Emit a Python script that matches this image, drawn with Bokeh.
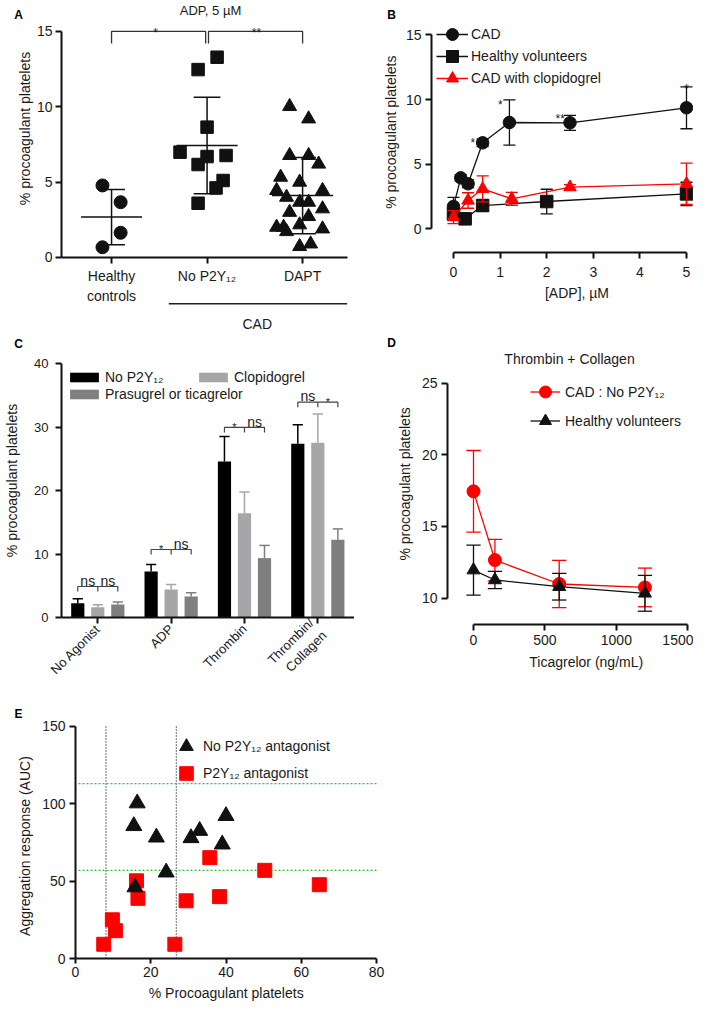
import math
from bokeh.plotting import figure
from bokeh.layouts import column, row
from bokeh.models import Range1d, FixedTicker, Label, Legend, LegendItem
from bokeh.embed import file_html
from bokeh.resources import INLINE

FONT = "Liberation Sans"
INK = "#111111"
RED = "#ff0000"

# ---------------- Panel A data ----------------
a_labels = ["Healthy\ncontrols", "No P2Y\u2081\u2082", "DAPT"]
a_healthy = [4.78, 3.67, 1.64, 0.68]
a_healthy_dx = [-0.095, 0.095, 0.095, -0.095]
a_nop2y12 = [13.29, 12.47, 8.65, 6.99, 6.70, 6.77, 6.17, 5.11, 4.62, 3.60]
a_nop2y12_dx = [0.105, -0.094, 0.0, -0.283, 0.0, 0.199, -0.094, 0.168, 0.094, -0.094]
a_dapt = [10.02, 9.2, 6.77, 6.77, 6.2, 5.33, 5.0, 4.45, 4.45, 4.0, 3.67,
          3.67, 3.0, 3.23, 2.72, 2.01, 2.01, 2.17, 1.72, 1.9, 0.73, 0.9]
a_dapt_dx = [-0.136, 0.063, -0.136, 0.063, 0.168, -0.230, -0.031, -0.272, 0.209, -0.168, -0.031,
             0.063, -0.136, 0.209, 0.063, -0.272, -0.199, -0.031, -0.168, 0.209, -0.031, 0.084]
a_mean = [2.68, 7.43, 4.11]
a_sd = [1.83, 3.2, 2.53]
a_bracket_y = 15.0
a_sig = ["*", "**"]

# ---------------- Panel B data ----------------
b_x_cad = [0, 0.156, 0.3125, 0.625, 1.2, 2.5, 5]
b_cad = [1.73, 3.94, 3.48, 6.65, 8.22, 8.2, 9.36]
b_cad_err = [0.7, 0.25, 0.3, 0.3, 1.75, 0.58, 1.62]
b_x_hv = [0, 0.25, 0.625, 2, 5]
b_hv = [1.16, 0.77, 1.8, 2.11, 2.7]
b_hv_err = [0.45, 0.2, 0.43, 0.95, 0.9]
b_x_clop = [0, 0.3125, 0.625, 1.25, 2.5, 5]
b_clop = [0.9, 2.19, 3.09, 2.32, 3.22, 3.48]
b_clop_err = [0.5, 0.6, 1.0, 0.5, 0.2, 1.6]
b_names = ["CAD", "Healthy volunteers", "CAD with clopidogrel"]

# ---------------- Panel C data ----------------
c_categories = ["No Agonist", "ADP", "Thrombin", "Thrombin/\nCollagen"]
c_series = ["No P2Y\u2081\u2082", "Clopidogrel", "Prasugrel or ticagrelor"]
c_no = [2.31, 7.3, 24.6, 27.4]
c_no_err = [0.68, 1.1, 3.96, 3.0]
c_clop = [1.68, 4.46, 16.48, 27.56]
c_clop_err = [0.37, 0.79, 3.32, 4.54]
c_pras = [2.1, 3.36, 9.4, 12.28]
c_pras_err = [0.37, 0.58, 2.0, 1.72]
c_bracket_y = [4.93, 10.76, 30.0, 33.96]
c_sig_left = ["ns", "*", "*", "ns"]
c_sig_right = ["ns", "ns", "ns", "*"]

# ---------------- Panel D data ----------------
d_x = [0, 150, 600, 1200]
d_cad = [17.45, 12.65, 10.98, 10.74]
d_cad_err = [2.85, 1.45, 1.65, 1.35]
d_hv = [11.95, 11.26, 10.79, 10.33]
d_hv_err = [1.75, 0.6, 0.93, 1.25]
d_names = ["CAD : No P2Y\u2081\u2082", "Healthy volunteers"]

# ---------------- Panel E data ----------------
e_no_x = [16.4, 15.5, 21.5, 24.1, 15.8, 30.7, 33.0, 39.0, 40.0]
e_no_y = [100.4, 85.7, 78.3, 55.7, 46.1, 77.9, 82.6, 73.8, 92.2]
e_p2_x = [16.2, 16.6, 35.7, 50.3, 64.8, 38.3, 29.4, 9.8, 10.6, 7.5, 26.4]
e_p2_y = [50.2, 38.9, 65.2, 57.0, 47.7, 40.0, 37.3, 25.0, 18.0, 9.2, 9.2]
e_vlines = [8.1, 26.8]
e_hlines = [113.1, 57.0]
e_names = ["No P2Y\u2081\u2082 antagonist", "P2Y\u2081\u2082 antagonist"]


# ---------------- helpers ----------------
def make_fig(w, h, xr, yr):
    p = figure(width=w, height=h, x_range=Range1d(*xr), y_range=Range1d(*yr),
               output_backend="svg", toolbar_location=None, min_border=0)
    p.frame_align = False
    p.grid.visible = False
    p.outline_line_color = None
    p.background_fill_color = "white"
    p.border_fill_color = "white"
    return p


def style_axes(p, xticks, yticks, xloc, yloc, xbounds, ybounds, xsize="14px", ysize="14px",
               xstand=5, ystand=4, xtick=6, ytick=6):
    p.xaxis.ticker = FixedTicker(ticks=xticks)
    p.yaxis.ticker = FixedTicker(ticks=yticks)
    for ax in p.axis:
        ax.axis_line_width = 2
        ax.axis_line_color = INK
        ax.major_tick_line_width = 2
        ax.major_tick_line_color = INK
        ax.major_tick_in = 0
        ax.minor_tick_line_color = None
        ax.major_label_text_font = FONT
        ax.major_label_text_color = "#1a1a1a"
    p.xaxis.fixed_location = xloc
    p.yaxis.fixed_location = yloc
    p.xaxis.bounds = xbounds
    p.yaxis.bounds = ybounds
    p.xaxis.major_tick_out = xtick
    p.yaxis.major_tick_out = ytick
    p.xaxis.major_label_text_font_size = xsize
    p.yaxis.major_label_text_font_size = ysize
    p.xaxis.major_label_standoff = xstand
    p.yaxis.major_label_standoff = ystand


def txt(p, x, y, s, size="14px", align="center", baseline="middle", bold=False,
        color="#1a1a1a", angle=0.0):
    p.add_layout(Label(x=x, y=y, text=s, text_font=FONT, text_font_size=size,
                       text_align=align, text_baseline=baseline,
                       text_font_style="bold" if bold else "normal",
                       text_color=color, angle=angle))


def errbars(p, xs, lows, highs, half, color, width=1.3, low_cap=True):
    p.segment(x0=xs, y0=lows, x1=xs, y1=highs, line_color=color, line_width=width)
    p.segment(x0=[x - half for x in xs], y0=highs, x1=[x + half for x in xs], y1=highs,
              line_color=color, line_width=width)
    if low_cap:
        p.segment(x0=[x - half for x in xs], y0=lows, x1=[x + half for x in xs], y1=lows,
                  line_color=color, line_width=width)


def add_legend(p, items, loc, gw, gh, lh, spacing, standoff, size):
    lg = Legend(items=items, location=loc, orientation="vertical",
                glyph_width=gw, glyph_height=gh, label_height=lh, spacing=spacing,
                label_standoff=standoff, padding=0, margin=0,
                border_line_color=None, background_fill_alpha=0,
                label_text_font=FONT, label_text_font_size=size,
                label_text_color="#1a1a1a")
    p.add_layout(lg)


# ======================= Panel A =======================
pA = make_fig(354, 335, (-1.1626, 2.5434), (-5.176, 17.054))
style_axes(pA, [0, 1, 2], [0, 5, 10, 15], 0, -0.524, (-0.524, 2.47), (0, 15),
           xsize="14px", ysize="14px", xstand=5, ystand=3, xtick=6, ytick=6)
pA.xaxis.major_label_overrides = {i: lab for i, lab in enumerate(a_labels)}
a_centers = [0, 1, 2]
a_groups = [(a_healthy, a_healthy_dx, "circle", 13),
            (a_nop2y12, a_nop2y12_dx, "square", 12.5),
            (a_dapt, a_dapt_dx, "triangle", 14)]
for c, (vals, dx, mk, sz) in zip(a_centers, a_groups):
    pA.scatter(x=[c + d for d in dx], y=vals, marker=mk, size=sz,
               fill_color=INK, line_color=INK)
pA.segment(x0=[c - 0.32 for c in a_centers], y0=a_mean,
           x1=[c + 0.32 for c in a_centers], y1=a_mean, line_color=INK, line_width=1.5)
errbars(pA, a_centers, [m - s for m, s in zip(a_mean, a_sd)],
        [m + s for m, s in zip(a_mean, a_sd)], 0.14, INK, 1.5)
drop = 0.8
pA.multi_line(xs=[[0, 0, 0.985, 0.985], [1.015, 1.015, 2, 2]],
              ys=[[a_bracket_y - drop, a_bracket_y, a_bracket_y, a_bracket_y - drop]] * 2,
              line_color="#333333", line_width=1.3)
txt(pA, 0.46, 14.93, a_sig[0], size="12px", baseline="alphabetic")
txt(pA, 1.517, 14.93, a_sig[1], size="12px", baseline="alphabetic")
txt(pA, 1.036, 16.39, "ADP, 5 \u00b5M", size="13px")
txt(pA, -0.974, 16.06, "A", size="12px", bold=True, color="black")
txt(pA, -0.901, 8.56, "% procoagulant platelets", size="14px", angle=math.pi / 2)
pA.segment(x0=[0.599], y0=[-3.07], x1=[2.467], y1=[-3.07], line_color="#222222", line_width=1.3)
txt(pA, 1.525, -4.40, "CAD", size="14px")

# ======================= Panel B =======================
pB = make_fig(339, 335, (-2.1245, 5.1502), (-8.252, 17.657))
style_axes(pB, [0, 1, 2, 3, 4, 5], [0, 5, 10, 15], -1.833, -0.4721, (0, 5), (0, 15),
           xsize="14px", ysize="14px", xstand=8, ystand=4, xtick=6, ytick=6)
b_series = [(b_x_cad, b_cad, b_cad_err, "circle", INK, b_names[0]),
            (b_x_hv, b_hv, b_hv_err, "square", INK, b_names[1]),
            (b_x_clop, b_clop, b_clop_err, "triangle", RED, b_names[2])]
b_items = []
for xs, ys, es, mk, col, name in b_series:
    errbars(pB, xs, [y - e for y, e in zip(ys, es)], [y + e for y, e in zip(ys, es)],
            0.13, col, 1.3)
    lr = pB.line(xs, ys, line_color=col, line_width=1.3)
    sr = pB.scatter(xs, ys, marker=mk, size=12.5, fill_color=col, line_color=col)
    b_items.append(LegendItem(label=name, renderers=[lr, sr]))
for item, ly in zip(b_items, [286, 264, 242]):
    add_legend(pB, [item], (82, ly), 32, 30, 20, 0, 3, "14px")
for sx, sy, s in [(0.417, 6.67, "*"), (1.006, 9.56, "*"), (2.29, 8.53, "**"), (5.0, 10.85, "*")]:
    txt(pB, sx, sy, s, size="12px", baseline="alphabetic")
txt(pB, -1.330, 16.497, "B", size="12px", bold=True, color="black")
txt(pB, -1.337, 7.471, "% procoagulant platelets", size="14px", angle=math.pi / 2)
txt(pB, 2.65, -4.98, "[ADP], \u00b5M", size="14px")

# ======================= Panel C =======================
pC = make_fig(354, 360, (-1.3267, 3.5001), (-12.236, 44.457))
style_axes(pC, [0, 1, 2, 3], [0, 10, 20, 30, 40], 0, -0.495, (-0.495, 3.5), (0, 40),
           xsize="13px", ysize="13px", xstand=3, ystand=7, xtick=6, ytick=6)
pC.xaxis.major_label_overrides = {i: lab for i, lab in enumerate(c_categories)}
pC.xaxis.major_label_orientation = math.pi / 4
c_centers = [0, 1, 2, 3]
c_off = [-0.273, 0.0, 0.273]
c_cols = ["#000000", "#a6a6a8", "#7f7f7f"]
c_rend = []
for vals, errs, o, col in zip([c_no, c_clop, c_pras], [c_no_err, c_clop_err, c_pras_err],
                              c_off, c_cols):
    xx = [c + o for c in c_centers]
    r = pC.vbar(x=xx, top=vals, width=0.18, fill_color=col, line_color=None)
    c_rend.append(r)
    errbars(pC, xx, vals, [v + e for v, e in zip(vals, errs)], 0.07, col, 1.5, low_cap=False)
pC.multi_line(xs=[[c - 0.273, c - 0.273, c + 0.273, c + 0.273] for c in c_centers],
              ys=[[yb - 0.8, yb, yb, yb - 0.8] for yb in c_bracket_y],
              line_color="#444444", line_width=1.2)
pC.segment(x0=c_centers, y0=[yb - 0.8 for yb in c_bracket_y], x1=c_centers, y1=c_bracket_y,
           line_color="#444444", line_width=1.2)
for c, yb, sl, sr_ in zip(c_centers, c_bracket_y, c_sig_left, c_sig_right):
    for xx, s in [(c - 0.137, sl), (c + 0.137, sr_)]:
        if s == "ns":
            txt(pC, xx, yb + 0.9, s, size="14px", baseline="alphabetic")
        else:
            txt(pC, xx, yb + 0.1, s, size="11px", baseline="alphabetic")
add_legend(pC, [LegendItem(label=c_series[0], renderers=[c_rend[0]]),
                LegendItem(label=c_series[2], renderers=[c_rend[2]])],
           (66, 293), 36, 12, 17, 0, 3, "14px")
add_legend(pC, [LegendItem(label=c_series[1], renderers=[c_rend[1]])],
           (195, 310), 36, 12, 17, 0, 3, "14px")
txt(pC, -1.0813, 43.197, "C", size="12px", bold=True, color="black")
txt(pC, -1.1631, 21.62, "% procoagulant platelets", size="14px", angle=math.pi / 2)

# ======================= Panel D =======================
pD = make_fig(339, 360, (-833, 1540), (3.194, 28.33))
style_axes(pD, [0, 500, 1000, 1500], [10, 15, 20, 25], 8.183, -182, (0, 1500), (10, 25),
           xsize="14px", ysize="14px", xstand=5, ystand=4, xtick=6, ytick=6)
d_items = []
for ys, es, mk, col, name in [(d_cad, d_cad_err, "circle", RED, d_names[0]),
                              (d_hv, d_hv_err, "triangle", INK, d_names[1])]:
    errbars(pD, d_x, [y - e for y, e in zip(ys, es)], [y + e for y, e in zip(ys, es)],
            50, col, 1.3)
    lr = pD.line(d_x, ys, line_color=col, line_width=1.3)
    sr = pD.scatter(d_x, ys, marker=mk, size=13, fill_color=col, line_color=col)
    d_items.append(LegendItem(label=name, renderers=[lr, sr]))
for item, ly in zip(d_items, [287, 258]):
    add_legend(pD, [item], (176, ly), 30, 33, 20, 0, 5, "14px")
txt(pD, -574, 27.78, "D", size="12px", bold=True, color="black")
txt(pD, 672, 26.68, "Thrombin + Collagen", size="14px")
txt(pD, -483, 17.97, "% procoagulant platelets", size="14px", angle=math.pi / 2)
txt(pD, 789, 5.55, "Ticagrelor (ng/mL)", size="14px")

# ======================= Panel E =======================
pE = make_fig(420, 306, (-19.934, 91.694), (-27.80, 170.04))
style_axes(pE, [0, 20, 40, 60, 80], [0, 50, 100, 150], 0, 0, (0, 80), (0, 150),
           xsize="14px", ysize="14px", xstand=3, ystand=4, xtick=5, ytick=6)
pE.segment(x0=e_vlines, y0=[0] * len(e_vlines), x1=e_vlines, y1=[150] * len(e_vlines),
           line_color=INK, line_width=1.2, line_dash="1 2")
pE.segment(x0=[0.8] * len(e_hlines), y0=e_hlines, x1=[80] * len(e_hlines), y1=e_hlines,
           line_color="#3cbf3c", line_width=1.3, line_dash="2 2")
r_p2 = pE.scatter(e_p2_x, e_p2_y, marker="square", size=14, fill_color=RED, line_color=RED)
r_no = pE.scatter(e_no_x, e_no_y, marker="triangle", size=16, fill_color=INK, line_color=INK)
add_legend(pE, [LegendItem(label=e_names[0], renderers=[r_no])], (169, 238), 34, 34, 20, 0, 0, "14px")
add_legend(pE, [LegendItem(label=e_names[1], renderers=[r_p2])], (169, 211), 34, 34, 20, 0, 0, "14px")
txt(pE, -15.15, 158.4, "E", size="12px", bold=True, color="black")
txt(pE, -13.29, 72.7, "Aggregation response (AUC)", size="14px", angle=math.pi / 2)
txt(pE, 40.05, -22.6, "% Procoagulant platelets", size="14px")

layout = column(row(pA, pB, spacing=0), row(pC, pD, spacing=0), row(pE, spacing=0), spacing=0)
open("out.html", "w").write(file_html(layout, INLINE, title="Procoagulant platelets"))
